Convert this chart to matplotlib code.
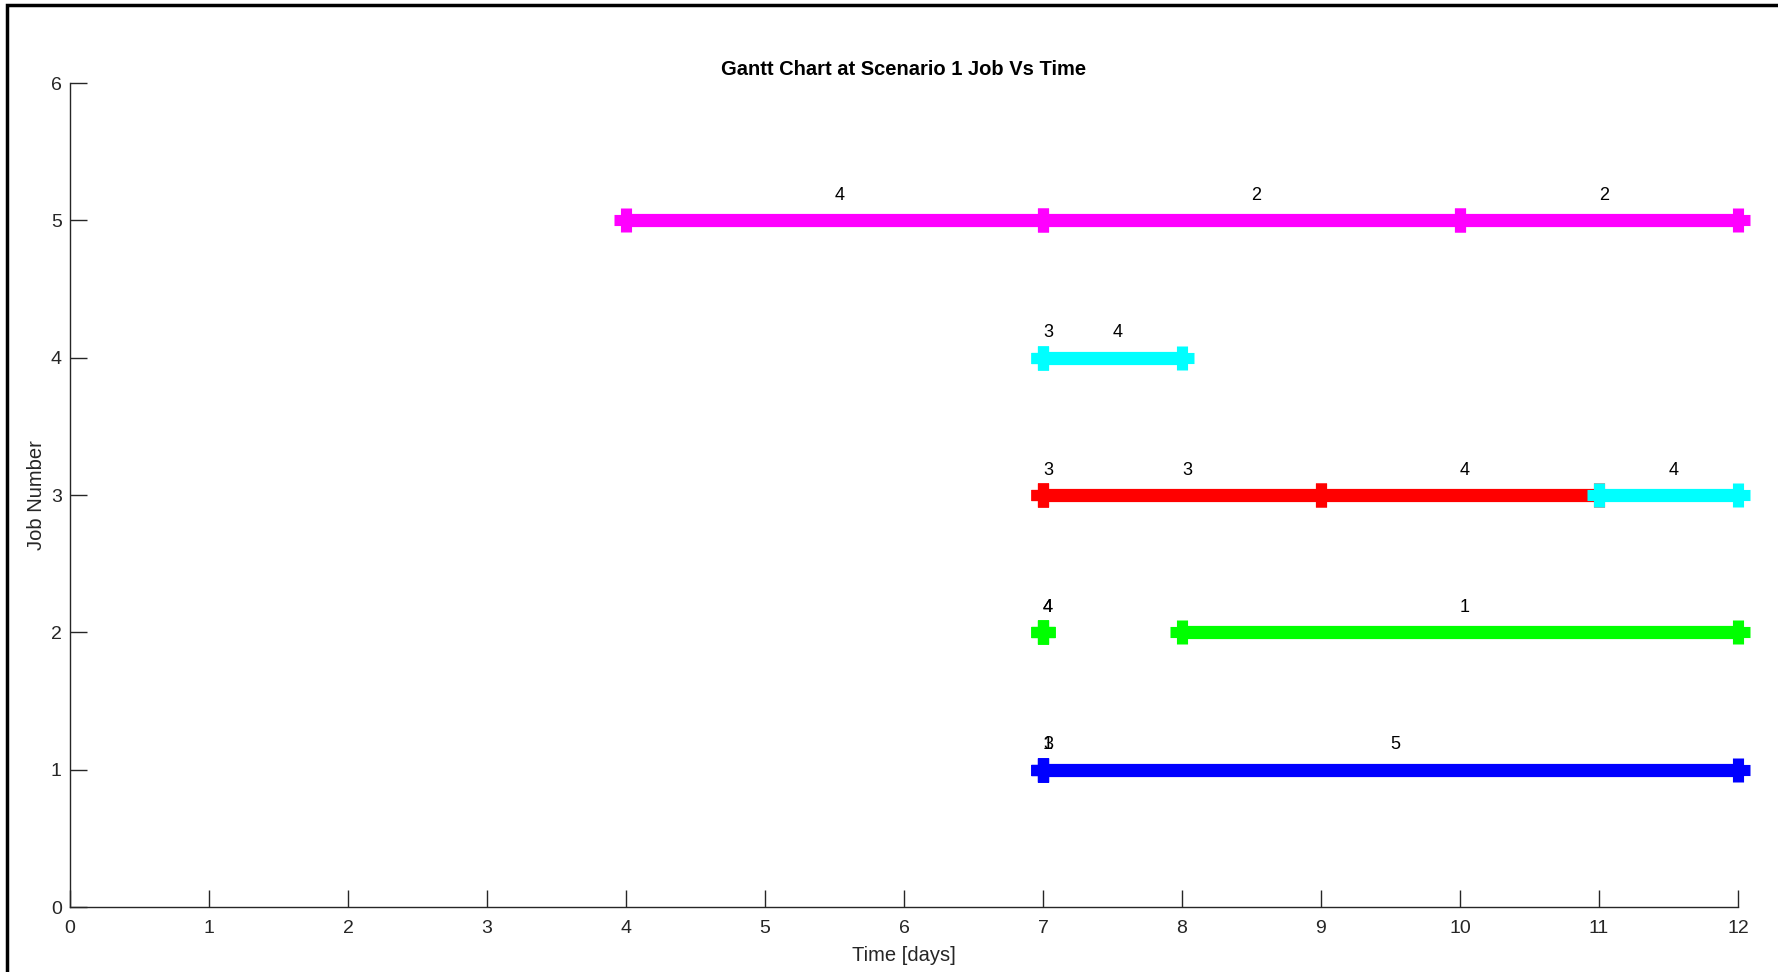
import matplotlib
matplotlib.use("Agg")
import matplotlib.pyplot as plt
from matplotlib.patches import Rectangle

plt.rcParams['font.family'] = ['Liberation Sans', 'DejaVu Sans']

# Gantt segments: job, start, end, label, colour
seg_jobs   = [5, 5, 5, 4, 4, 3, 3, 3, 3, 2, 2, 2, 1, 1, 1]
seg_start  = [4, 7, 10, 7, 7, 7, 7, 9, 11, 7, 7, 8, 7, 7, 7]
seg_end    = [7, 10, 12, 7, 8, 7, 9, 11, 12, 7, 7, 12, 7, 7, 12]
seg_labels = ['4', '2', '2', '3', '4', '3', '3', '4', '4', '4', '4', '1', '1', '3', '5']
seg_colors = ['#FF00FF', '#FF00FF', '#FF00FF', '#00FFFF', '#00FFFF',
              '#FF0000', '#FF0000', '#FF0000', '#00FFFF',
              '#00FF00', '#00FF00', '#00FF00',
              '#0000FF', '#0000FF', '#0000FF']

x_ticks = list(range(0, 13))
y_ticks = list(range(0, 7))

W, H = 1778, 972
fig = plt.figure(figsize=(W / 100, H / 100), dpi=100)
ax = fig.add_axes([70 / W, 1 - 907 / H, (1738 - 70) / W, (907 - 83) / H])

for j, s, e, lab, c in zip(seg_jobs, seg_start, seg_end, seg_labels, seg_colors):
    ax.plot([s, e], [j, j], color=c, linewidth=9.5, solid_capstyle='butt',
            marker='+', markersize=17, markeredgewidth=8, clip_on=False, zorder=3)
    ax.text((s + e) / 2, j + 0.18, lab, ha='left', va='center',
            fontsize=13, color='black', zorder=4)

ax.set_xlim(0, 12)
ax.set_ylim(0, 6)
ax.set_xticks(x_ticks)
ax.set_yticks(y_ticks)
for sp in ['top', 'right']:
    ax.spines[sp].set_visible(False)
for sp in ['left', 'bottom']:
    ax.spines[sp].set_color('#262626')
    ax.spines[sp].set_linewidth(1.0)
ax.tick_params(direction='in', length=12, width=1, colors='#262626',
               labelsize=14, labelcolor='#262626')
ax.tick_params(axis='x', pad=9)
ax.tick_params(axis='y', pad=6)
ax.set_title('Gantt Chart at Scenario 1 Job Vs Time', fontsize=14.5,
             fontweight='bold', pad=6)
ax.set_xlabel('Time [days]', fontsize=14.5, color='#262626', labelpad=7)
ax.set_ylabel('Job Number', fontsize=14.5, color='#262626', labelpad=3)

# figure frame (partially cropped in the original)
fig.patches.append(Rectangle((7 / W, -0.1), 1.2, 1 - 5 / H + 0.1,
                             transform=fig.transFigure, fill=False,
                             edgecolor='black', linewidth=2.5, zorder=10))

fig.savefig('out.png', dpi=100)
